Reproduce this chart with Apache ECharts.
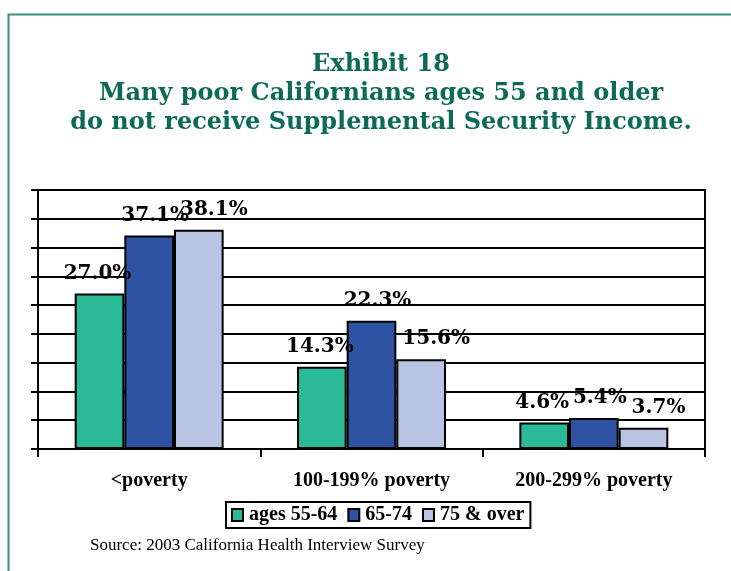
<!DOCTYPE html>
<html>
<head>
<meta charset="utf-8">
<title>Exhibit 18</title>
<script src="https://cdn.jsdelivr.net/npm/echarts@6/dist/echarts.min.js"></script>
<style>
html,body{margin:0;padding:0;background:#fff;}
#main{width:731px;height:571px;}
</style>
</head>
<body>
<div id="main"></div>
<script>
//chart data
var categories=["<poverty","100-199% poverty","200-299% poverty"];
var seriesNames=["ages 55-64","65-74","75 & over"];
var ages5564=[27.0,14.3,4.6];
var ages6574=[37.1,22.3,5.4];
var ages75over=[38.1,15.6,3.7];
var seriesColors=["#2bba98","#2f53a3","#b9c4e3"];

var serif="'Liberation Serif','Times New Roman',serif";
var wideSerif="'DejaVu Serif',serif";

//build one bar series
function makeSeries(name,values,color,dx){
	return {
		name:name,
		type:'bar',
		data:values,
		barGap:'0%',
		barCategoryGap:'33%',
		itemStyle:{color:color,borderColor:'#000',borderWidth:2},
		label:{
			show:true,
			position:'top',
			distance:10,
			offset:[dx,0],
			color:'#000',
			fontFamily:wideSerif,
			fontWeight:'bold',
			fontSize:20,
			formatter:function(p){return p.value.toFixed(1)+"%";}
		}
	};
}

var myChart=echarts.init(document.getElementById('main'));

var option={
	backgroundColor:'#fff',
	animation:false,
	title:{
		text:"Exhibit 18\nMany poor Californians ages 55 and older\ndo not receive Supplemental Security Income.",
		left:376,
		top:45,
		textAlign:'center',
		textStyle:{
			color:'#0c6a57',
			fontFamily:wideSerif,
			fontWeight:'bold',
			fontSize:24,
			lineHeight:29
		}
	},
	legend:{
		data:seriesNames,
		left:226,
		top:502,
		padding:[3,6,3,5],
		borderColor:'#000',
		borderWidth:2,
		itemGap:10,
		itemWidth:11,
		itemHeight:12,
		icon:'rect',
		textStyle:{color:'#000',fontFamily:serif,fontWeight:'bold',fontSize:20,padding:[0,0,0,1]}
	},
	grid:{
		left:38,right:26,top:190,bottom:122,
		show:true,
		borderColor:'#000',
		borderWidth:2
	},
	xAxis:{
		type:'category',
		data:categories,
		axisLine:{lineStyle:{color:'#000',width:2}},
		axisTick:{show:true,length:8,lineStyle:{color:'#000',width:2}},
		axisLabel:{color:'#000',fontFamily:serif,fontWeight:'bold',fontSize:20,margin:22}
	},
	yAxis:{
		type:'value',
		min:0,max:45,interval:5,
		axisLabel:{show:false},
		axisLine:{show:true,lineStyle:{color:'#000',width:2}},
		axisTick:{show:true,length:7,lineStyle:{color:'#000',width:2}},
		splitLine:{lineStyle:{color:'#000',width:2}}
	},
	series:[
		makeSeries(seriesNames[0],ages5564,seriesColors[0],-2),
		makeSeries(seriesNames[1],ages6574,seriesColors[1],6),
		makeSeries(seriesNames[2],ages75over,seriesColors[2],15)
	],
	graphic:[
		//outer teal frame
		{type:'rect',left:6,top:12,shape:{width:800,height:700},
			style:{fill:'none',stroke:'#3d8a7f',lineWidth:2},silent:true},
		//source line
		{type:'text',left:90,top:537,
			style:{text:"Source: 2003 California Health Interview Survey",fill:'#000',font:"17px "+serif}}
	]
};

myChart.setOption(option);
</script>
</body>
</html>
